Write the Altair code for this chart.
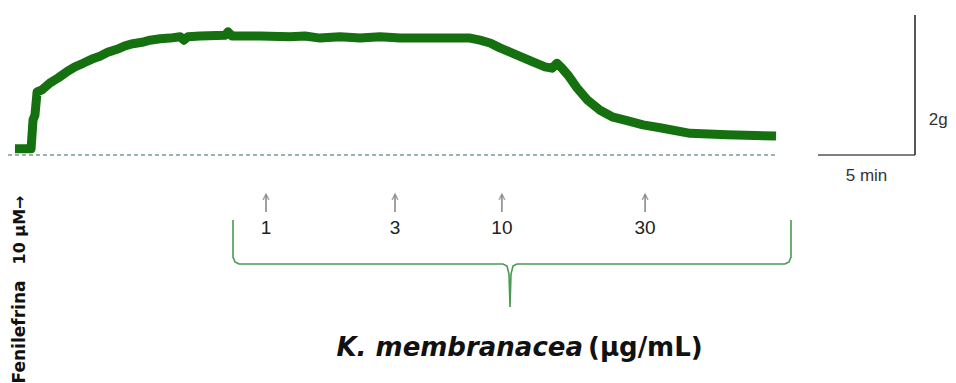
import altair as alt
import pandas as pd

# ---------------- data (minutes, grams) ----------------
trace_min = [0.05, 0.88, 0.98, 1.08, 1.19, 1.44, 1.86, 2.27, 2.73, 3.14, 3.56, 4.02,
             4.43, 4.85, 5.31, 5.72, 6.13, 6.60, 7.01, 7.53, 8.04, 8.56, 8.76, 8.97,
             9.59, 10.88, 11.03, 11.24, 12.68, 14.23, 15.00, 15.77, 16.80, 17.84,
             18.87, 19.90, 21.44, 23.51, 24.02, 24.54, 25.05, 25.57, 26.08, 26.75,
             27.37, 27.73, 27.99, 28.25, 28.56, 29.02, 29.54, 30.21, 30.88, 31.60,
             32.42, 33.30, 34.85, 36.75, 39.28]
trace_g = [0.09, 0.09, 0.50, 0.57, 0.90, 0.93, 1.03, 1.10, 1.19, 1.26, 1.31, 1.37,
           1.41, 1.47, 1.51, 1.56, 1.59, 1.61, 1.64, 1.66, 1.67, 1.69, 1.64, 1.69,
           1.70, 1.71, 1.76, 1.70, 1.70, 1.69, 1.70, 1.67, 1.69, 1.67,
           1.69, 1.67, 1.67, 1.67, 1.64, 1.60, 1.53, 1.47, 1.41, 1.33,
           1.26, 1.24, 1.31, 1.24, 1.14, 0.96, 0.79, 0.64, 0.54, 0.49,
           0.43, 0.39, 0.31, 0.29, 0.27]

dose_min = [12.99, 19.64, 25.15, 32.53]
dose_labels = ["1", "3", "10", "30"]

scale_bar_min = 5
scale_bar_g = 2

# ---------------- layout helpers (pixel -> data) ----------------
W, H = 956, 383
X0, Y0 = 14, 155
PX_PER_MIN, PX_PER_G = 19.4, 70.0


def tx(px):
    return (px - X0) / PX_PER_MIN


def gy(py):
    return (Y0 - py) / PX_PER_G


xs = alt.Scale(domain=[tx(0), tx(W)], nice=False, zero=False)
ys = alt.Scale(domain=[gy(H), gy(0)], nice=False, zero=False)


def XE(f="t"):
    return alt.X(f"{f}:Q", scale=xs, axis=None)


def YE(f="g"):
    return alt.Y(f"{f}:Q", scale=ys, axis=None)


trace_df = pd.DataFrame({"t": trace_min, "g": trace_g})

trace = alt.Chart(trace_df).mark_line(
    color="#15700f", strokeWidth=9, strokeJoin="round", strokeCap="butt"
).encode(x=XE(), y=YE())

base_df = pd.DataFrame({"t": [tx(8)], "t2": [trace_min[-1]], "g": [0.0]})
baseline = alt.Chart(base_df).mark_rule(
    color="#2f6b50", strokeWidth=1.2, strokeDash=[4, 3]
).encode(x=XE(), x2="t2:Q", y=YE())

# scale bar
sb_start = tx(818)
sbh_df = pd.DataFrame({"t": [sb_start], "t2": [sb_start + scale_bar_min], "g": [0.0]})
sbh = alt.Chart(sbh_df).mark_rule(color="#555555", strokeWidth=1.6).encode(
    x=XE(), x2="t2:Q", y=YE())
sbv_df = pd.DataFrame({"t": [sb_start + scale_bar_min], "g": [0.0], "g2": [float(scale_bar_g)]})
sbv = alt.Chart(sbv_df).mark_rule(color="#111111", strokeWidth=1.4).encode(
    x=XE(), y=YE(), y2="g2:Q")

sb_text_df = pd.DataFrame({
    "t": [sb_start + scale_bar_min / 2, sb_start + scale_bar_min + 1.2],
    "g": [gy(176), gy(120)],
    "label": [f"{scale_bar_min} min", f"{scale_bar_g}g"],
})
sb_text = alt.Chart(sb_text_df).mark_text(
    font="Liberation Sans", fontSize=17, color="#333333", align="center", baseline="middle"
).encode(x=XE(), y=YE(), text="label:N")

# dose arrows
dose_df = pd.DataFrame({"t": dose_min, "label": dose_labels,
                        "g": [gy(212)] * 4, "g2": [gy(195)] * 4,
                        "gh": [gy(197)] * 4, "gl": [gy(228)] * 4})
shaft = alt.Chart(dose_df).mark_rule(color="#808080", strokeWidth=1.5).encode(
    x=XE(), y=YE(), y2="g2:Q")
head = alt.Chart(dose_df).mark_point(
    shape="M-1,1L0,-1L1,1", filled=False, color="#808080", strokeWidth=1.5, size=34
).encode(x=XE(), y=YE("gh"))
dose_text = alt.Chart(dose_df).mark_text(
    font="Liberation Sans", fontSize=19, color="#222222", align="center", baseline="middle"
).encode(x=XE(), y=YE("gl"), text="label:N")

# brace
brace_px = [(233, 220), (233, 257), (235, 262), (239, 264), (503, 264), (507, 266),
            (509, 274), (510, 307), (511, 274), (513, 266), (517, 264), (785, 264),
            (789, 262), (791, 257), (791, 220)]
brace_df = pd.DataFrame({"i": list(range(len(brace_px))),
                         "t": [tx(p[0]) for p in brace_px],
                         "g": [gy(p[1]) for p in brace_px]})
brace = alt.Chart(brace_df).mark_line(color="#4a9a52", strokeWidth=1.6).encode(
    x=XE(), y=YE(), order="i:Q")

# bottom label
lab1 = alt.Chart(pd.DataFrame({"t": [tx(583)], "g": [gy(356)], "s": ["K. membranacea"]})).mark_text(
    font="DejaVu Sans", fontSize=26, fontWeight="bold", fontStyle="italic",
    color="#111111", align="right", baseline="alphabetic"
).encode(x=XE(), y=YE(), text="s:N")
lab2 = alt.Chart(pd.DataFrame({"t": [tx(588)], "g": [gy(356)], "s": ["(µg/mL)"]})).mark_text(
    font="DejaVu Sans", fontSize=26, fontWeight="bold",
    color="#111111", align="left", baseline="alphabetic"
).encode(x=XE(), y=YE(), text="s:N")

# rotated left label
rot1 = alt.Chart(pd.DataFrame({"t": [tx(20)], "g": [gy(332)], "s": ["Fenilefrina"]})).mark_text(
    font="DejaVu Sans", fontSize=17, fontWeight="bold", color="#111111",
    angle=270, align="center", baseline="middle"
).encode(x=XE(), y=YE(), text="s:N")
rot2 = alt.Chart(pd.DataFrame({"t": [tx(20)], "g": [gy(230)], "s": ["10 µM→"]})).mark_text(
    font="DejaVu Sans", fontSize=16, fontWeight="bold", color="#111111",
    angle=270, align="center", baseline="middle"
).encode(x=XE(), y=YE(), text="s:N")

chart = alt.layer(
    baseline, trace, sbh, sbv, sb_text, shaft, head, dose_text, brace, lab1, lab2, rot1, rot2
).properties(
    width=W, height=H, padding=0, autosize=alt.AutoSizeParams(type="none"), background="white"
).configure_view(stroke=None)

chart.save("out.html", embed_options={"renderer": "svg", "actions": False})
